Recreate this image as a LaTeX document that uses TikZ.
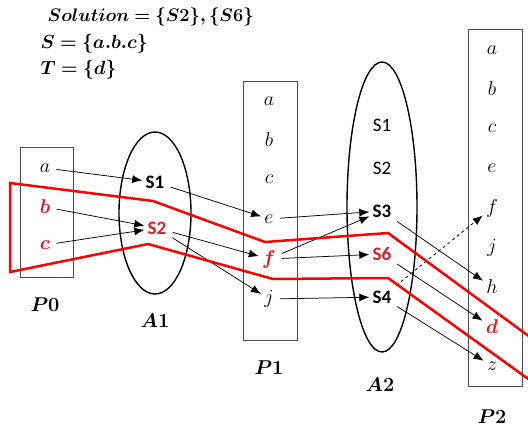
\RequirePackage{fix-cm}
\documentclass[tikz,border=0pt]{standalone}
\usepackage{amsmath}
\usepackage{bm}
\usepackage{fontspec}
\newfontfamily\setfont{Carlito}
\usetikzlibrary{arrows.meta}

\definecolor{hitred}{RGB}{222,30,38}

\begin{document}
\begin{tikzpicture}[
  x=1pt,y=-1pt,
  line width=0.75pt,
  box/.style={draw=black!70,line width=0.8pt},
  ring/.style={draw,line width=1.4pt},
  elem/.style={font=\fontsize{20}{20}\selectfont,inner sep=3pt},
  stateset/.style={font=\fontsize{19}{19}\selectfont\setfont,inner sep=3pt},
  hit/.style={text=hitred},
  caption/.style={font=\fontsize{20}{20}\selectfont},
  headline/.style={font=\fontsize{19}{19}\selectfont,anchor=west},
  link/.style={-{Latex[length=10pt,width=8pt]},shorten <=3pt},
  route/.style={draw=red,line width=2.5pt,line join=miter},
]
\useasboundingbox (0,0) rectangle (528,431);

%--- geometry ----------------------------------------------------------------
\def\colP{45}     % centre of P0
\def\colA{155}    % centre of A1
\def\colQ{269}    % centre of P1
\def\colB{382}    % centre of A2
\def\colR{492}    % centre of P2

%--- the three sets on top ---------------------------------------------------
\node[headline,font=\fontsize{18.2}{18.2}\selectfont] (sol) at (44,17)
  {$\bm{Solution = \{S2\},\{S6\}}$};
\node[headline] (sset) at (37,44) {$\bm{S = \{a.b.c\}}$};
\node[headline] (tset) at (37,70) {$\bm{T = \{d\}}$};

%--- P0 and A1 ---------------------------------------------------------------
\draw[box] (20,147) rectangle (73,277);
\node[elem] (p0a) at (\colP,168) {$a$};
\node[elem,hit] (p0b) at (\colP,207) {$\bm{b}$};
\node[elem,hit] (p0c) at (\colP,245) {$\bm{c}$};
\node[caption] (p0) at (\colP,305) {$\bm{P0}$};

\draw[ring] (\colA,213) ellipse [x radius=36pt,y radius=81pt];
\node[stateset] (a1s1) at (\colA,182) {\bfseries S1};
\node[stateset,hit] (a1s2) at (157,228) {\bfseries S2};
\node[caption] (a1) at (\colA,321) {$\bm{A1}$};

%--- P1 and A2 ---------------------------------------------------------------
\draw[box] (243,81) rectangle (297,340);
\node[elem] (p1a) at (\colQ,101) {$a$};
\node[elem] (p1b) at (\colQ,140) {$b$};
\node[elem] (p1c) at (\colQ,179) {$c$};
\node[elem] (p1e) at (\colQ,219) {$e$};
\node[elem,hit] (p1f) at (\colQ,259) {$\bm{f}$};
\node[elem] (p1j) at (\colQ,299) {$j$};
\node[caption] (p1) at (\colQ,368) {$\bm{P1}$};

\draw[ring] (\colB,207) ellipse [x radius=35pt,y radius=145pt];
\node[stateset] (a2s1) at (\colB,125) {S1};
\node[stateset] (a2s2) at (\colB,168) {S2};
\node[stateset] (a2s3) at (\colB,211) {\bfseries S3};
\node[stateset,hit] (a2s6) at (\colB,254) {\bfseries S6};
\node[stateset] (a2s4) at (\colB,297) {\bfseries S4};
\node[caption] (a2) at (380,385) {$\bm{A2}$};

%--- P2 ----------------------------------------------------------------------
\draw[box] (468,29) rectangle (522,386);
\node[elem] (p2a) at (\colR,50) {$a$};
\node[elem] (p2b) at (\colR,89) {$b$};
\node[elem] (p2c) at (\colR,128) {$c$};
\node[elem] (p2e) at (\colR,168) {$e$};
\node[elem] (p2f) at (\colR,208) {$f$};
\node[elem] (p2j) at (\colR,248) {$j$};
\node[elem] (p2h) at (\colR,287) {$h$};
\node[elem,hit] (p2d) at (\colR,327) {$\bm{d}$};
\node[elem] (p2z) at (\colR,366) {$z$};
\node[caption] (p2) at (\colR,417) {$\bm{P2}$};

%--- transitions -------------------------------------------------------------
\draw[link] (p0a) -- (a1s1);
\draw[link] (p0b) -- (a1s2);
\draw[link] (p0c) -- (a1s2);

\draw[link] (a1s1) -- (p1e);
\draw[link] (a1s2) -- (p1f);
\draw[link] (a1s2) -- (p1j);

\draw[link] (p1e) -- (a2s3);
\draw[link] (p1f) -- (a2s3);
\draw[link] (p1f) -- (a2s6);
\draw[link] (p1j) -- (a2s4);

\draw[link] (a2s3) -- (p2h);
\draw[link] (a2s6) -- (p2d);
\draw[link] (a2s4) -- (p2z);
\draw[link,dashed] (a2s4) -- (p2f);

% The cut that separates S from T.
\draw[route] (545,348) -- (388,233) -- (265,242) -- (153,201) -- (10,183)
  -- (10,272) -- (148,244) -- (273,279) -- (388,278) -- (545,391);

\end{tikzpicture}
\end{document}
